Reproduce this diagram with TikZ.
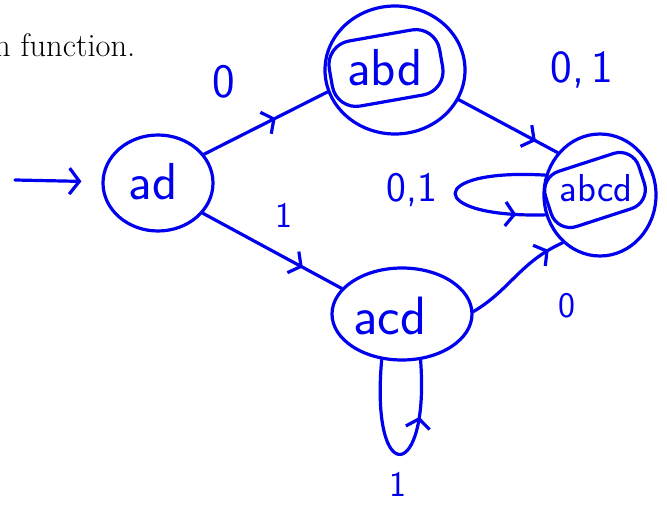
\documentclass[tikz,border=0pt]{standalone}
\usetikzlibrary{arrows.meta,decorations.markings,shapes.geometric}
\definecolor{ink}{RGB}{0,0,238}
\newcommand{\handfont}[1]{\fontsize{#1}{#1}\selectfont\sffamily}
\begin{document}
\begin{tikzpicture}[x=1pt,y=-1pt,
  pen/.style={draw=ink,line width=3.2pt,line cap=round,line join=round},
  state/.style={pen,ellipse,inner sep=0pt,text=ink},
  ring/.style={pen,rectangle,rounded corners=24pt,inner sep=0pt},
  lbl/.style={text=ink,inner sep=0pt},
  midtip/.style={postaction={decorate},decoration={markings,
    mark=at position #1 with {\arrow[ink,line width=3.2pt]{Straight Barb[length=9pt,width=24pt]}}}}]
\useasboundingbox (0,0) rectangle (667,508);

% running text of the page
\node[anchor=base west,inner sep=0pt,font=\fontsize{32.5}{38}\selectfont] (txt) at (-6,57) {n function.};

% states
\node[state,minimum width=110pt,minimum height=96pt,font=\handfont{52}] (ad) at (158,183) {};
\node[lbl,font=\handfont{52}] (adtext) at (153,182) {ad};
\node[state,minimum width=140pt,minimum height=128pt] (abd) at (395,70) {};
\node[ring,minimum width=112pt,minimum height=66pt,rotate=10] (abdring) at (386,68) {};
\node[lbl,font=\handfont{52}] (abdtext) at (385,68) {abd};
\node[state,minimum width=112pt,minimum height=122pt] (abcd) at (600,195) {};
\node[ring,minimum width=98pt,minimum height=58pt,rotate=18,rounded corners=20pt] (abcdring) at (595,190) {};
\node[lbl,font=\handfont{39}] (abcdtext) at (596,188) {abcd};
\node[state,minimum width=140pt,minimum height=92pt] (acd) at (402,314) {};
\node[lbl,font=\handfont{54}] (acdtext) at (390,316) {acd};

% start arrow
\coordinate (start) at (15,180);
\draw[pen,shorten >=20pt,-{Straight Barb[length=10pt,width=26pt]}] (start) -- (ad);

% transitions
\draw[pen,midtip=0.58] (ad.32) -- (abd.198);
\draw[pen,midtip=0.78] (abd.-25) -- (abcd.135);
\draw[pen,midtip=0.85] (abcd.160) .. controls (425,168) and (425,218) .. (abcd.200);
\draw[pen,midtip=0.72] (ad.-34) -- (acd.157);
\draw[pen,midtip=0.86] (acd.2) .. controls (510,290) and (520,262) .. (abcd.232);
\draw[pen,midtip=0.72] (acd.246) .. controls (370,490) and (430,482) .. (acd.292);

% transition labels
\node[lbl,font=\handfont{48}] (l1) at (224,82) {0};
\node[lbl,font=\handfont{46}] (l2) at (582,70) {0,\,1};
\node[lbl,font=\handfont{42}] (l3) at (412,190) {0,1};
\node[lbl,font=\handfont{36}] (l4) at (284,215) {1};
\node[lbl,font=\handfont{36}] (l5) at (567,306) {0};
\node[lbl,font=\handfont{36}] (l6) at (398,484) {1};
\end{tikzpicture}
\end{document}
